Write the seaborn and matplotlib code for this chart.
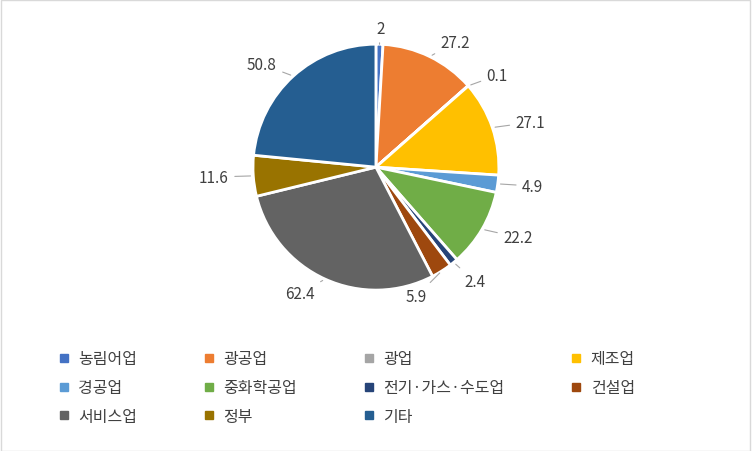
import numpy as np
import matplotlib.pyplot as plt
import seaborn as sns
from matplotlib.lines import Line2D

sns.set_theme(style="white")
plt.rcParams['font.family'] = ['Noto Sans CJK KR', 'DejaVu Sans']

categories = ['농림어업', '광공업', '광업', '제조업', '경공업', '중화학공업',
              '전기·가스·수도업', '건설업', '서비스업', '정부', '기타']
values = [2, 27.2, 0.1, 27.1, 4.9, 22.2, 2.4, 5.9, 62.4, 11.6, 50.8]
labels = ['2', '27.2', '0.1', '27.1', '4.9', '22.2', '2.4', '5.9', '62.4', '11.6', '50.8']
colors = ['#4472C4', '#ED7D31', '#A5A5A5', '#FFC000', '#5B9BD5', '#70AD47',
          '#264478', '#9E480E', '#636363', '#997300', '#255E91']

# label placement tweaks for the crowded small slices
label_pos = {'2.4': (0.72, -0.93, 'left'), '5.9': (0.33, -1.05, 'center')}

fig = plt.figure(figsize=(7.52, 4.52), dpi=100)
ax = fig.add_axes([0.5 - 0.1636, 0.628 - 0.272, 0.327, 0.544])
wedges, _ = ax.pie(values, colors=colors, startangle=90, counterclock=False,
                   wedgeprops=dict(edgecolor='white', linewidth=2))
ax.set_xlim(-1, 1)
ax.set_ylim(-1, 1)
ax.set_aspect('equal')

for w, lab in zip(wedges, labels):
    ang = np.deg2rad((w.theta1 + w.theta2) / 2)
    x, y = np.cos(ang), np.sin(ang)
    if lab in label_pos:
        tx, ty, ha = label_pos[lab]
    else:
        tx, ty = x * 1.2, y * 1.13
        ha = 'left' if x > 0.05 else ('right' if x < -0.05 else 'center')
    ax.annotate(lab, xy=(x, y), xytext=(tx, ty), ha=ha, va='center',
                fontsize=11, color='#404040', annotation_clip=False,
                arrowprops=dict(arrowstyle='-', color='#A6A6A6', lw=0.8))

handles = [Line2D([0], [0], marker='s', linestyle='', markersize=6,
                  markerfacecolor=c, markeredgecolor=c) for c in colors]
# legend fills column-wise, so reorder to read row by row
order = [i for col in range(4) for i in range(col, len(categories), 4)]
fig.legend([handles[i] for i in order], [categories[i] for i in order],
           ncol=4, loc='upper left',
           bbox_to_anchor=(0.055, 0.255), frameon=False, fontsize=11.5,
           labelcolor='#404040', handletextpad=0.4, columnspacing=4.0,
           labelspacing=0.75, handlelength=1.0)

fig.patches.append(plt.Rectangle((0.001, 0.001), 0.997, 0.997, transform=fig.transFigure,
                                 fill=False, edgecolor='#D9D9D9', lw=1))
fig.savefig('out.png', dpi=100)
